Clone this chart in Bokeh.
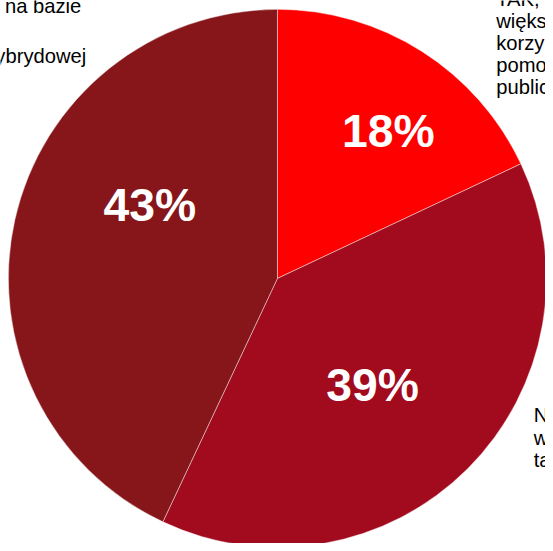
import math
from bokeh.plotting import figure
from bokeh.models import ColumnDataSource, Range1d
from bokeh.core.properties import value
from bokeh.embed import file_html
from bokeh.resources import INLINE

# ---- data ----
categories = ["TAK", "NIE", "HYBRYDA"]
shares = [18, 39, 43]
pct_labels = ["18%", "39%", "43%"]
slice_colors = ["#FF0000", "#A20A1E", "#86161A"]

# visible fragments of the outer category texts (the rest lies outside the crop)
left_lines = ["na bazie", "ybrydowej"]
topright_lines = ["TAK,", "większ", "korzy", "pomoc", "public"]
bottomright_lines = ["N", "w", "ta"]

# ---- layout: data units = reference pixels (553 x 551), y measured upward ----
W, H = 545, 543
RW, RH = 553, 551
S = W / RW
CX, CY, R = 281, RH - 282, 273
label_offsets = [(112.5, 149.5), (96.5, -108), (-129.5, 74)]  # per slice, from centre

def fy(ref_y):
    return RH - ref_y

def fs(px):
    return "%.1fpx" % (px * S)

total = float(sum(shares))
starts, ends = [], []
cum = 0.0
for s in shares:
    a0 = math.pi / 2 - 2 * math.pi * cum / total
    cum += s
    a1 = math.pi / 2 - 2 * math.pi * cum / total
    starts.append(a0)
    ends.append(a1)

src = ColumnDataSource(dict(
    cat=categories, share=shares, start=starts, end=ends, color=slice_colors,
    x=[CX] * len(shares), y=[CY] * len(shares),
))

p = figure(width=W, height=H, output_backend="svg", toolbar_location=None,
           x_range=Range1d(0, RW), y_range=Range1d(0, RH),
           x_axis_type=None, y_axis_type=None, min_border=0)
p.grid.visible = False
p.outline_line_color = None
p.background_fill_color = "white"
p.border_fill_color = "white"

p.wedge(x="x", y="y", radius=R, start_angle="start", end_angle="end",
        direction="clock", fill_color="color", line_color="white",
        line_alpha=0.55, line_width=0.8, source=src)

lab = ColumnDataSource(dict(
    x=[CX + dx for dx, dy in label_offsets],
    y=[CY + dy for dx, dy in label_offsets],
    t=pct_labels,
))
p.text(x="x", y="y", text="t", source=lab, text_color="white",
       text_font=value("Liberation Sans"), text_font_style="bold",
       text_font_size=fs(47), text_align="center", text_baseline="middle")

font = value("Liberation Sans")
fsz = fs(20.5)
# left fragments (right-aligned end positions)
p.text(x=[82, 87], y=[fy(6), fy(56)], text=left_lines,
       text_font=font, text_font_size=fsz, text_color="#000000",
       text_align="right", text_baseline="middle")
# top-right fragments
p.text(x=[503] * len(topright_lines),
       y=[fy(-1.5 + 22.2 * i) for i in range(len(topright_lines))],
       text=topright_lines, text_font=font, text_font_size=fsz,
       text_color="#000000", text_align="left", text_baseline="middle")
# bottom-right fragments
p.text(x=[541] * len(bottomright_lines),
       y=[fy(421 + 22.5 * i) for i in range(len(bottomright_lines))],
       text=bottomright_lines, text_font=font, text_font_size=fsz,
       text_color="#000000", text_align="left", text_baseline="middle")

open("out.html", "w").write(file_html(p, INLINE))
